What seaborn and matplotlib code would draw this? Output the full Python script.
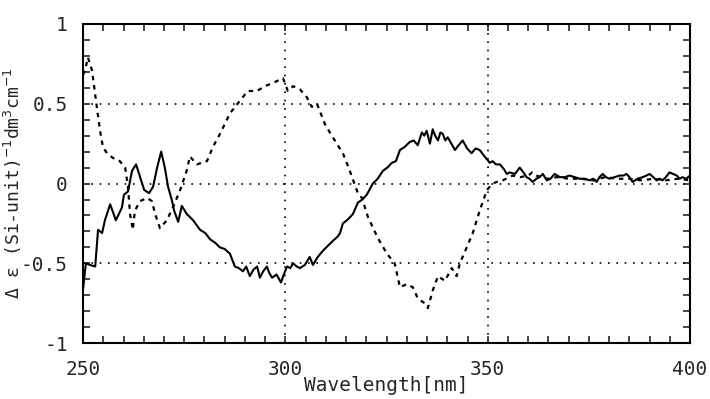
import numpy as np
import pandas as pd
import matplotlib
matplotlib.use("Agg")
import matplotlib.pyplot as plt
import seaborn as sns
from matplotlib.ticker import MultipleLocator

# 实线 (solid) 光谱
wl_solid = [250.0, 250.7, 251.7, 253.0, 253.7, 254.7, 255.4, 256.7, 258.1, 259.6,
            260.1, 261.1, 262.1, 263.1, 264.1, 265.1, 266.3, 267.3, 268.3, 269.3,
            270.2, 271.0, 272.0, 272.5, 273.5, 274.4, 275.6, 277.2, 278.9, 280.2,
            281.4, 282.6, 283.8, 285.0, 286.3, 287.5, 288.5, 289.5, 290.3, 291.2,
            292.1, 293.0, 293.7, 294.5, 295.4, 296.0, 296.7, 297.8, 298.9, 299.6,
            300.4, 301.2, 301.9, 302.8, 303.6, 304.8, 306.0, 306.8, 308.0, 309.3,
            310.5, 311.7, 313.0, 313.5, 314.2, 315.2, 316.0, 316.7, 317.9, 319.0,
            320.1, 321.6, 322.8, 324.1, 325.2, 326.3, 327.3, 328.3, 329.5, 330.7,
            331.7, 332.7, 333.7, 334.3, 334.9, 335.7, 336.4, 337.0, 337.7, 338.3,
            338.9, 339.5, 340.1, 341.0, 341.9, 342.8, 343.8, 344.9, 346.0, 347.0,
            348.0, 349.2, 350.5, 351.2, 352.0, 353.0, 354.0, 354.7, 355.4, 356.7,
            357.9, 358.8, 359.6, 360.3, 361.1, 362.0, 362.8, 363.6, 364.6, 365.5,
            366.5, 367.2, 367.8, 369.0, 370.2, 371.5, 372.7, 374.0, 375.2, 376.0,
            376.9, 377.6, 378.4, 379.2, 380.1, 381.3, 382.6, 383.5, 384.3, 385.0,
            385.8, 387.0, 388.3, 389.2, 390.0, 390.9, 391.7, 392.5, 393.2, 394.0,
            394.9, 395.8, 396.7, 397.4, 398.1, 399.0, 400.0]
de_solid = [-0.66, -0.50, -0.51, -0.52, -0.29, -0.31, -0.23, -0.13, -0.23, -0.15,
            -0.07, -0.05, 0.08, 0.12, 0.04, -0.04, -0.06, -0.02, 0.10, 0.20,
            0.10, -0.02, -0.11, -0.17, -0.24, -0.14, -0.19, -0.23, -0.29, -0.31,
            -0.35, -0.37, -0.40, -0.41, -0.44, -0.52, -0.53, -0.55, -0.52, -0.58,
            -0.54, -0.52, -0.59, -0.55, -0.52, -0.56, -0.59, -0.57, -0.62, -0.57,
            -0.52, -0.53, -0.50, -0.52, -0.53, -0.51, -0.46, -0.51, -0.46, -0.42,
            -0.39, -0.36, -0.33, -0.31, -0.25, -0.23, -0.21, -0.19, -0.12, -0.10,
            -0.07, 0.00, 0.03, 0.08, 0.10, 0.13, 0.14, 0.21, 0.23, 0.26,
            0.27, 0.24, 0.32, 0.30, 0.33, 0.25, 0.34, 0.30, 0.27, 0.32,
            0.31, 0.27, 0.29, 0.25, 0.21, 0.24, 0.27, 0.22, 0.19, 0.22,
            0.21, 0.17, 0.13, 0.14, 0.12, 0.12, 0.09, 0.06, 0.07, 0.06,
            0.10, 0.07, 0.04, 0.03, 0.01, 0.03, 0.04, 0.06, 0.02, 0.03,
            0.06, 0.05, 0.04, 0.04, 0.05, 0.04, 0.03, 0.03, 0.02, 0.03,
            0.01, 0.04, 0.06, 0.04, 0.03, 0.04, 0.05, 0.05, 0.06, 0.04,
            0.01, 0.03, 0.04, 0.05, 0.06, 0.04, 0.02, 0.03, 0.02, 0.04,
            0.07, 0.06, 0.05, 0.03, 0.04, 0.03, 0.05]

# 虚线 (dashed) 光谱
wl_dash = [250.0, 250.5, 251.2, 252.2, 253.5, 254.2, 254.9, 255.9, 257.4, 259.1,
           260.4, 261.1, 261.6, 262.3, 262.8, 264.1, 265.8, 267.0, 267.8, 269.0,
           270.7, 272.2, 274.0, 275.6, 276.4, 278.1, 280.6, 282.1, 283.8, 286.3,
           288.8, 290.7, 293.0, 294.9, 296.9, 299.4, 300.6, 301.9, 303.6, 305.3,
           306.5, 307.8, 309.8, 311.7, 314.2, 315.9, 317.9, 318.9, 320.4, 322.8,
           325.1, 327.0, 328.3, 330.0, 331.5, 332.7, 334.4, 335.2, 336.4, 337.7,
           339.4, 341.1, 342.3, 343.1, 344.8, 346.3, 348.0, 349.8, 351.2, 352.2,
           353.7, 356.2, 358.0, 360.0, 361.0, 362.0, 364.6, 367.0, 370.0, 373.0,
           376.0, 379.0, 382.0, 385.0, 388.0, 391.0, 394.0, 397.0, 400.0]
de_dash = [0.68, 0.71, 0.79, 0.71, 0.46, 0.33, 0.23, 0.19, 0.16, 0.14,
           0.10, -0.02, -0.19, -0.29, -0.17, -0.11, -0.09, -0.11, -0.19, -0.28,
           -0.23, -0.15, -0.04, 0.08, 0.17, 0.12, 0.14, 0.23, 0.31, 0.44,
           0.52, 0.58, 0.58, 0.61, 0.63, 0.66, 0.58, 0.61, 0.59, 0.54,
           0.48, 0.50, 0.37, 0.29, 0.19, 0.08, -0.06, -0.09, -0.21, -0.34,
           -0.44, -0.50, -0.65, -0.63, -0.65, -0.72, -0.75, -0.78, -0.67, -0.58,
           -0.61, -0.53, -0.58, -0.50, -0.40, -0.31, -0.17, -0.04, 0.00, 0.01,
           0.02, 0.05, 0.04, 0.05, 0.07, 0.05, 0.03, 0.04, 0.03, 0.03,
           0.02, 0.04, 0.03, 0.03, 0.02, 0.03, 0.02, 0.03, 0.02]

df_solid = pd.DataFrame({"wl": wl_solid, "de": de_solid})
df_dash = pd.DataFrame({"wl": wl_dash, "de": de_dash})

sns.set_style("ticks")
plt.rcParams['font.family'] = ['DejaVu Sans Mono', 'DejaVu Sans']

fig = plt.figure(figsize=(7.1, 3.99), dpi=100)
ax = fig.add_axes([0.117, 0.140, 0.855, 0.800])

sns.lineplot(data=df_solid, x="wl", y="de", ax=ax, color="black", linewidth=1.5)
sns.lineplot(data=df_dash, x="wl", y="de", ax=ax, color="black", linewidth=1.6,
             linestyle=(0, (2.0, 2.2)))

ax.set_xlim(250, 400)
ax.set_ylim(-1, 1)
ax.xaxis.set_major_locator(MultipleLocator(50))
ax.xaxis.set_minor_locator(MultipleLocator(5))
ax.yaxis.set_major_locator(MultipleLocator(0.5))
ax.yaxis.set_minor_locator(MultipleLocator(0.1))
ax.set_xticks([250, 300, 350, 400])
ax.set_xticklabels(["250", "300", "350", "400"])
ax.set_yticks([-1, -0.5, 0, 0.5, 1])
ax.set_yticklabels(["-1", "-0.5", "0", "0.5", "1"])

ax.tick_params(which="both", direction="in", top=True, right=True, width=1.2)
ax.tick_params(which="major", length=5, labelsize=14)
ax.tick_params(axis="y", which="major", pad=11)
ax.tick_params(axis="x", which="major", pad=12)
ax.tick_params(which="minor", length=5)

for s in ax.spines.values():
    s.set_linewidth(1.5)
    s.set_color("black")

# 网格线 (点线)
for xv in [300, 350]:
    ax.axvline(xv, color="black", linestyle=(0, (1, 4)), linewidth=1.2)
for yv in [0.5, 0, -0.5]:
    ax.axhline(yv, color="black", linestyle=(0, (1, 4)), linewidth=1.2)

ax.set_xlabel("Wavelength[nm]", fontsize=14, labelpad=-2)
ax.set_ylabel(r"Δ ε (Si-unit)$^{-1}$dm$^{3}$cm$^{-1}$", fontsize=13)
ax.yaxis.set_label_coords(-0.097, 0.5)

fig.savefig("out.png", dpi=100)
